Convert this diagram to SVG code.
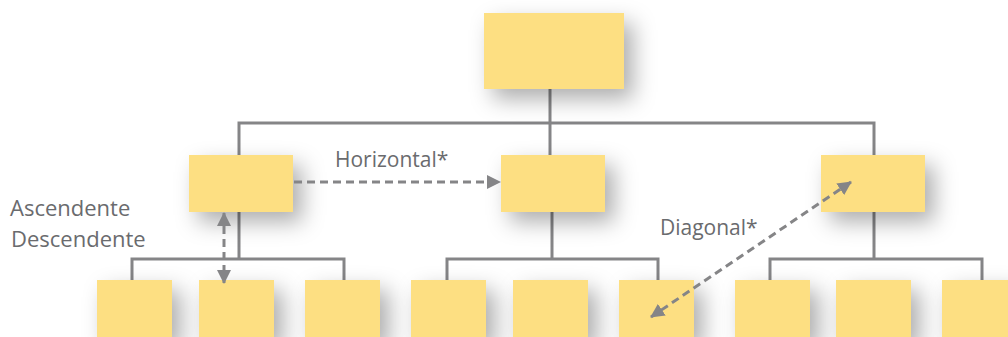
<svg xmlns="http://www.w3.org/2000/svg" width="1008" height="337" viewBox="0 0 1008 337">
<style>
.box{fill:#fddf82;filter:url(#sh)}
.ln{fill:none;stroke:#858587;stroke-width:3}
.da{fill:none;stroke:#858587;stroke-width:3;stroke-dasharray:8 5}
.lb{font-family:"Open Sans","Noto Sans",sans-serif;font-size:21px;fill:#6a6b6e}
.lb2{font-size:22px}
</style>
<defs>
<filter id="sh" x="-50%" y="-50%" width="220%" height="220%">
<feDropShadow dx="9" dy="10" stdDeviation="11" flood-color="#000" flood-opacity="0.32"/>
</filter>
<marker id="ah" viewBox="0 0 14 14" refX="13" refY="7" markerWidth="14" markerHeight="14" markerUnits="userSpaceOnUse" orient="auto-start-reverse">
<path d="M0,0 L14,7 L0,14 z" fill="#858587"/>
</marker>
</defs>
<g id="connectors">
<path class="ln" d="M550,89 V123 M239,155 V123 H874 V155 M550,123 V155"/>
<path class="ln" d="M239,212 V259 M132,280 V259 H344 V280"/>
<path class="ln" d="M552,212 V259 M447,280 V259 H658 V280"/>
<path class="ln" d="M874,212 V259 M770,280 V259 H982 V280"/>
</g>
<g id="n0"><rect class="box" x="484" y="13" width="140" height="76"/></g>
<g id="n1"><rect class="box" x="189" y="155" width="104" height="57"/></g>
<g id="n2"><rect class="box" x="501" y="155" width="104" height="57"/></g>
<g id="n3"><rect class="box" x="821" y="155" width="104" height="57"/></g>
<g id="b1"><rect class="box" x="97" y="280" width="75" height="60"/></g>
<g id="b2"><rect class="box" x="199" y="280" width="75" height="60"/></g>
<g id="b3"><rect class="box" x="305" y="280" width="75" height="60"/></g>
<g id="b4"><rect class="box" x="411" y="280" width="75" height="60"/></g>
<g id="b5"><rect class="box" x="513" y="280" width="75" height="60"/></g>
<g id="b6"><rect class="box" x="619" y="280" width="75" height="60"/></g>
<g id="b7"><rect class="box" x="735" y="280" width="75" height="60"/></g>
<g id="b8"><rect class="box" x="836" y="280" width="75" height="60"/></g>
<g id="b9"><rect class="box" x="942" y="280" width="75" height="60"/></g>
<g id="arrows">
<path class="da" d="M294,182 H500" marker-end="url(#ah)"/>
<path class="da" d="M224,213 V283" marker-start="url(#ah)" marker-end="url(#ah)"/>
<path class="da" d="M851,182 L651,317" marker-start="url(#ah)" marker-end="url(#ah)"/>
</g>
<g id="labels">
<text class="lb" x="335" y="167">Horizontal*</text>
<text class="lb lb2" x="10" y="216">Ascendente</text>
<text class="lb lb2" x="11" y="247">Descendente</text>
<text class="lb" x="660" y="235">Diagonal*</text>
</g>
</svg>
